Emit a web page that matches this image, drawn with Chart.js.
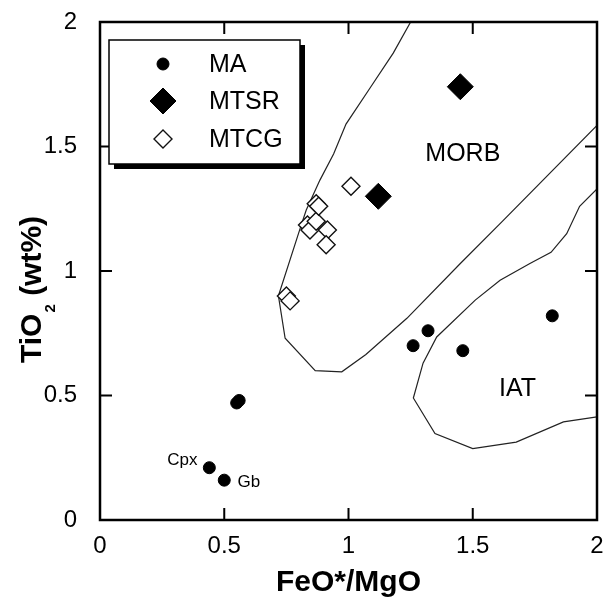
<!DOCTYPE html>
<html><head><meta charset="utf-8">
<script src="https://cdn.jsdelivr.net/npm/chart.js@4.4.1/dist/chart.umd.min.js"></script>
<style>html,body{margin:0;padding:0;background:#fff}canvas{display:block}</style>
</head><body>
<canvas id="c" width="605" height="600"></canvas>
<script>
// ---- data ----
const tickValues = [0, 0.5, 1, 1.5, 2];
const tickLabels = ['0', '0.5', '1', '1.5', '2'];
const seriesNames = ['MA', 'MTSR', 'MTCG'];
const maX = [0.44, 0.50, 0.55, 0.56, 1.26, 1.32, 1.46, 1.82];
const maY = [0.21, 0.16, 0.47, 0.48, 0.70, 0.76, 0.68, 0.82];
const mtsrX = [1.12, 1.45];
const mtsrY = [1.30, 1.74];
const mtcgX = [0.75, 0.765, 0.835, 0.845, 0.87, 0.915, 0.91, 0.87, 0.88, 1.01];
const mtcgY = [0.90, 0.88, 1.185, 1.165, 1.20, 1.165, 1.105, 1.27, 1.26, 1.34];
const morbX = [1.25, 1.18, 1.09, 0.99, 0.94, 0.885, 0.83, 0.81, 0.718, 0.745, 0.866, 0.973, 1.07, 1.235, 1.45, 1.62, 2.0];
const morbY = [2.0, 1.875, 1.74, 1.59, 1.47, 1.365, 1.245, 1.185, 0.90, 0.73, 0.60, 0.595, 0.665, 0.81, 1.03, 1.20, 1.585];
const iatX = [2.0, 1.93, 1.878, 1.815, 1.73, 1.61, 1.51, 1.355, 1.30, 1.261, 1.348, 1.50, 1.675, 1.865, 2.0];
const iatY = [1.33, 1.26, 1.15, 1.075, 1.03, 0.963, 0.883, 0.735, 0.63, 0.49, 0.347, 0.287, 0.313, 0.394, 0.414];
const fieldNames = ['MORB', 'IAT'];
const sampleNames = ['Cpx', 'Gb'];
const xTitle = 'FeO*/MgO';
const yTitleParts = ['TiO', '2', ' (wt%)'];

const pts = (xs, ys) => xs.map((x, i) => ({x: x, y: ys[i]}));
const FONT = '"Liberation Sans", Arial, Helvetica, sans-serif';
const zeroPad = s => { s.paddingTop = 0; s.paddingBottom = 0; s.paddingLeft = 0; s.paddingRight = 0; };

const decorPlugin = {
  id: 'decor',
  afterDatasetsDraw(chart) {
    const ctx = chart.ctx;
    const xs = chart.scales.x, ys = chart.scales.y;
    const a = chart.chartArea;
    ctx.save();
    // frame
    ctx.strokeStyle = '#000';
    ctx.lineWidth = 2.5;
    ctx.strokeRect(a.left, a.top, a.right - a.left, a.bottom - a.top);
    // inward ticks on all sides
    ctx.lineWidth = 2;
    const tl = 12;
    tickValues.slice(1, -1).forEach(v => {
      const px = xs.getPixelForValue(v);
      const py = ys.getPixelForValue(v);
      ctx.beginPath();
      ctx.moveTo(px, a.bottom); ctx.lineTo(px, a.bottom - tl);
      ctx.moveTo(px, a.top); ctx.lineTo(px, a.top + tl);
      ctx.moveTo(a.left, py); ctx.lineTo(a.left + tl, py);
      ctx.moveTo(a.right, py); ctx.lineTo(a.right - tl, py);
      ctx.stroke();
    });
    // x tick labels
    ctx.fillStyle = '#000';
    ctx.font = '24px ' + FONT;
    ctx.textAlign = 'center';
    ctx.textBaseline = 'alphabetic';
    tickValues.forEach((v, i) => ctx.fillText(tickLabels[i], xs.getPixelForValue(v), 553));
    // field labels
    ctx.font = '25px ' + FONT;
    ctx.textAlign = 'center';
    ctx.textBaseline = 'middle';
    ctx.fillText(fieldNames[0], xs.getPixelForValue(1.46), ys.getPixelForValue(1.47));
    ctx.fillText(fieldNames[1], xs.getPixelForValue(1.68), ys.getPixelForValue(0.525));
    // sample labels
    ctx.font = '17px ' + FONT;
    ctx.textAlign = 'right';
    ctx.fillText(sampleNames[0], xs.getPixelForValue(0.392), ys.getPixelForValue(0.238));
    ctx.textAlign = 'left';
    ctx.fillText(sampleNames[1], xs.getPixelForValue(0.553), ys.getPixelForValue(0.153));
    // legend box with shadow
    const bx = 109, by = 40, bw = 191, bh = 124;
    ctx.fillStyle = '#000';
    ctx.fillRect(bx + 5, by + 5, bw, bh);
    ctx.fillStyle = '#fff';
    ctx.fillRect(bx, by, bw, bh);
    ctx.lineWidth = 1.5;
    ctx.strokeStyle = '#000';
    ctx.strokeRect(bx, by, bw, bh);
    const rowsY = [64, 101, 139];
    chart.data.datasets.slice(0, 3).forEach((ds, i) => {
      ctx.fillStyle = ds.backgroundColor;
      ctx.strokeStyle = ds.borderColor;
      ctx.lineWidth = ds.borderWidth;
      Chart.helpers.drawPoint(ctx, {pointStyle: ds.pointStyle, radius: ds.pointRadius, borderWidth: ds.borderWidth, rotation: 0}, 163, rowsY[i]);
      ctx.fillStyle = '#000';
      ctx.font = '25px ' + FONT;
      ctx.textAlign = 'left';
      ctx.textBaseline = 'middle';
      ctx.fillText(ds.label, 209, rowsY[i] + 1);
    });
    // axis titles
    ctx.fillStyle = '#000';
    ctx.font = 'bold 30px ' + FONT;
    ctx.textAlign = 'center';
    ctx.textBaseline = 'alphabetic';
    ctx.fillText(xTitle, (a.left + a.right) / 2, 591);
    ctx.translate(40.5, 363);
    ctx.rotate(-Math.PI / 2);
    ctx.textAlign = 'left';
    ctx.font = 'bold 30px ' + FONT;
    ctx.fillText(yTitleParts[0], 0, 0);
    let w = ctx.measureText(yTitleParts[0]).width;
    ctx.font = 'bold 15px ' + FONT;
    ctx.fillText(yTitleParts[1], w + 1, 14);
    w += ctx.measureText(yTitleParts[1]).width + 1;
    ctx.font = 'bold 30px ' + FONT;
    ctx.fillText(yTitleParts[2], w, 0);
    ctx.restore();
  }
};

new Chart(document.getElementById('c'), {
  type: 'scatter',
  data: {
    datasets: [
      {label: seriesNames[0], data: pts(maX, maY), pointStyle: 'circle', pointRadius: 6, backgroundColor: '#000', borderColor: '#000', borderWidth: 1, order: 1},
      {label: seriesNames[1], data: pts(mtsrX, mtsrY), pointStyle: 'rectRot', pointRadius: 13, backgroundColor: '#000', borderColor: '#000', borderWidth: 1, order: 1},
      {label: seriesNames[2], data: pts(mtcgX, mtcgY), pointStyle: 'rectRot', pointRadius: 9, backgroundColor: '#fff', borderColor: '#111', borderWidth: 1.4, order: 1},
      {label: 'MORB field', data: pts(morbX, morbY), showLine: true, pointRadius: 0, borderColor: '#222', borderWidth: 1.2, fill: false, order: 5},
      {label: 'IAT field', data: pts(iatX, iatY), showLine: true, pointRadius: 0, borderColor: '#222', borderWidth: 1.2, fill: false, order: 5}
    ]
  },
  options: {
    responsive: false,
    animation: false,
    devicePixelRatio: 1,
    layout: {autoPadding: false, padding: {top: 22, right: 8, left: 0, bottom: 0}},
    plugins: {legend: {display: false}, tooltip: {enabled: false}},
    elements: {point: {hoverRadius: 0}},
    scales: {
      x: {
        type: 'linear', min: 0, max: 2,
        afterFit: s => { s.height = 80; zeroPad(s); },
        afterBuildTicks: s => { s.ticks = tickValues.map(v => ({value: v})); },
        grid: {display: false, drawTicks: false},
        border: {display: false},
        ticks: {display: false, padding: 0}
      },
      y: {
        type: 'linear', min: 0, max: 2,
        afterFit: s => { s.width = 100; zeroPad(s); },
        afterBuildTicks: s => { s.ticks = tickValues.map(v => ({value: v})); },
        grid: {display: false, drawTicks: false},
        border: {display: false},
        ticks: {padding: 23, color: '#000', font: {family: FONT, size: 24}, autoSkip: false,
          callback: (v) => tickLabels[tickValues.indexOf(v)]}
      }
    }
  },
  plugins: [decorPlugin]
});
</script>
</body></html>
